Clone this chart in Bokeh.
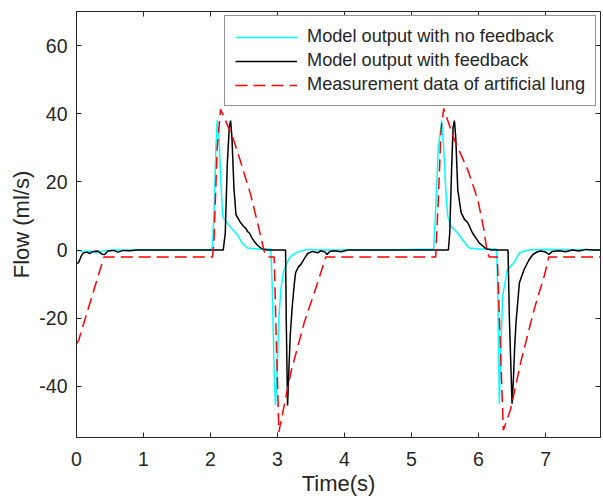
from bokeh.plotting import figure
from bokeh.models import Range1d, Legend, LegendItem, LinearAxis, FixedTicker
from bokeh.embed import file_html
from bokeh.resources import INLINE

# ---- data ----
t_nofb = [0.00, 0.10, 0.20, 0.30, 0.40, 0.55, 1.00, 1.50, 2.00, 2.03, 2.06, 2.08, 2.10, 2.13,
          2.15, 2.18, 2.25, 2.33, 2.40, 2.47, 2.55, 2.69, 2.90, 2.92, 2.95, 2.97, 2.99, 3.02,
          3.05, 3.09, 3.12, 3.16, 3.20, 3.28, 3.35, 3.45, 3.60, 4.50, 5.33, 5.36, 5.40, 5.45,
          5.48, 5.51, 5.54, 5.59, 5.69, 5.76, 5.86, 6.00, 6.27, 6.29, 6.31, 6.33, 6.36, 6.43,
          6.53, 6.61, 6.75, 7.00, 7.85]
f_nofb = [0.0, -0.5, -0.3, -0.8, -0.2, 0.0, 0.0, 0.0, 0.0, 1.1, 15.0, 30.0, 38.1, 32.0,
          22.0, 9.9, 7.9, 6.0, 4.5, 2.1, 0.6, 0.3, 0.3, -10.0, -35.0, -45.5, -38.0, -20.0,
          -11.5, -6.5, -4.7, -3.0, -1.8, -0.8, -0.3, 0.2, 0.0, 0.0, 0.3, 12.0, 30.0, 38.0,
          30.0, 18.0, 9.9, 7.0, 5.0, 3.0, 0.6, 0.3, 0.3, -15.0, -45.0, -30.0, -13.5, -5.7,
          -3.7, -0.8, 0.0, 0.2, 0.0]

t_fb = [0.00, 0.03, 0.07, 0.10, 0.15, 0.20, 0.25, 0.32, 0.38, 0.42, 0.47, 0.55, 0.62, 0.70,
        0.80, 0.90, 1.50, 2.19, 2.22, 2.25, 2.28, 2.30, 2.32, 2.35, 2.38, 2.42, 2.45, 2.50,
        2.53, 2.55, 2.58, 2.62, 2.65, 2.70, 2.77, 2.85, 3.12, 3.13, 3.15, 3.17, 3.19, 3.22,
        3.25, 3.27, 3.31, 3.35, 3.40, 3.45, 3.52, 3.60, 3.65, 3.71, 3.74, 3.78, 3.85, 3.95,
        4.05, 5.00, 5.55, 5.57, 5.60, 5.62, 5.64, 5.66, 5.69, 5.74, 5.79, 5.84, 5.91, 6.01,
        6.11, 6.20, 6.44, 6.46, 6.50, 6.52, 6.54, 6.56, 6.61, 6.68, 6.75, 6.81, 6.88, 6.93,
        7.00, 7.05, 7.10, 7.20, 7.30, 7.40, 7.50, 7.60, 7.70, 7.85]
f_fb = [-4.0, -3.7, -1.8, -0.9, -0.6, -1.0, -0.4, -0.3, -1.2, -1.3, -0.3, -0.1, -0.6, -0.1,
        -0.2, 0.0, 0.0, 0.0, 5.0, 25.0, 36.0, 38.0, 33.0, 18.0, 10.4, 9.0, 8.0, 6.8,
        6.3, 5.5, 5.0, 3.5, 2.6, 1.4, 0.3, 0.0, 0.0, -20.0, -45.6, -35.0, -25.0, -16.4,
        -10.0, -6.6, -5.0, -4.2, -2.5, -1.0, -0.4, -0.8, -0.2, -0.6, -1.3, -0.4, -0.2, -0.5,
        0.0, 0.0, 0.0, 5.0, 25.0, 36.0, 38.0, 33.0, 17.7, 11.0, 9.0, 8.0, 5.0, 2.1,
        0.4, 0.0, 0.0, -20.0, -45.1, -38.0, -28.0, -21.0, -9.6, -5.7, -3.0, -1.3, -0.5, -0.3,
        -0.6, -1.3, -0.4, -0.2, -0.5, 0.0, -0.3, 0.2, 0.0, 0.0]

t_meas = [0.00, 0.03, 0.41, 2.03, 2.05, 2.10, 2.15, 2.33, 2.45, 2.60, 2.72, 2.80, 2.85, 2.95,
          2.98, 3.02, 3.20, 3.40, 3.60, 3.72, 5.36, 5.40, 5.44, 5.48, 5.64, 5.84, 5.99, 6.08,
          6.13, 6.16, 6.28, 6.32, 6.37, 6.48, 6.63, 6.83, 6.98, 7.05, 7.85]
f_meas = [-27.5, -26.6, -2.0, -2.0, 2.0, 30.0, 41.3, 33.2, 25.9, 16.2, 6.5, -0.3, -2.0, -2.0,
          -25.0, -53.4, -35.8, -21.2, -9.5, -2.0, -2.0, 15.0, 35.0, 41.5, 32.3, 23.5, 14.7, 6.0,
          -0.8, -2.0, -2.0, -25.0, -52.9, -46.6, -32.9, -17.4, -7.6, -2.0, -2.0]

labels = ["Model output with no feedback",
          "Model output with feedback",
          "Measurement data of artificial lung"]
x_ticks = [0, 1, 2, 3, 4, 5, 6, 7]
y_ticks = [-40, -20, 0, 20, 40, 60]
y_tick_text = {-40: "-40", -20: "-20", 0: "0", 20: "20", 40: "40", 60: "60"}

FONT = "Liberation Sans"
AX = "#262626"

p = figure(width=603, height=499, output_backend="svg", toolbar_location=None,
           x_range=Range1d(0, 7.82), y_range=Range1d(-55, 70),
           min_border_left=76, min_border_right=3, min_border_top=11, min_border_bottom=62)
p.background_fill_color = "white"
p.border_fill_color = "white"
p.outline_line_color = AX
p.outline_line_width = 1
p.grid.visible = False

r1 = p.line(t_nofb, f_nofb, line_color="#00FFFF", line_width=1.5)
r2 = p.line(t_fb, f_fb, line_color="#000000", line_width=1.5)
r3 = p.line(t_meas, f_meas, line_color="#FF0000", line_width=1.5, line_dash="12 6")

for ax in (p.xaxis[0], p.yaxis[0]):
    ax.major_tick_in = 5
    ax.major_tick_out = 0
    ax.minor_tick_line_color = None
    ax.axis_line_color = AX
    ax.major_tick_line_color = AX
    ax.major_label_text_font = FONT
    ax.major_label_text_font_size = "19.5px"
    ax.major_label_text_color = AX
    ax.axis_label_text_font = FONT
    ax.axis_label_text_font_size = "22px"
    ax.axis_label_text_font_style = "normal"
    ax.axis_label_text_color = AX

p.xaxis.ticker = FixedTicker(ticks=x_ticks)
p.yaxis.ticker = FixedTicker(ticks=y_ticks)
p.yaxis.major_label_overrides = y_tick_text
p.xaxis.axis_label = "Time(s)"
p.yaxis.axis_label = "Flow (ml/s)"
p.xaxis.major_label_standoff = 14
p.xaxis.axis_label_standoff = 2
p.yaxis.major_label_standoff = 9
p.yaxis.axis_label_standoff = 2

for side, tk in (("right", y_ticks), ("above", x_ticks)):
    a = LinearAxis(ticker=FixedTicker(ticks=tk), major_tick_in=5, major_tick_out=0,
                   minor_tick_line_color=None, axis_line_color=None,
                   major_tick_line_color=AX, major_label_text_font_size="0px",
                   major_label_text_color=None, major_label_standoff=0)
    p.add_layout(a, side)

legend = Legend(items=[LegendItem(label=labels[0], renderers=[r1]),
                       LegendItem(label=labels[1], renderers=[r2]),
                       LegendItem(label=labels[2], renderers=[r3])],
                location="top_right", margin=4, padding=10, spacing=3,
                glyph_width=62, glyph_height=18, label_height=18, label_standoff=10,
                label_text_font=FONT, label_text_font_size="18.2px", label_text_color=AX,
                border_line_color=AX, border_line_width=1, background_fill_alpha=1)
p.add_layout(legend)

open("out.html", "w").write(file_html(p, INLINE))
